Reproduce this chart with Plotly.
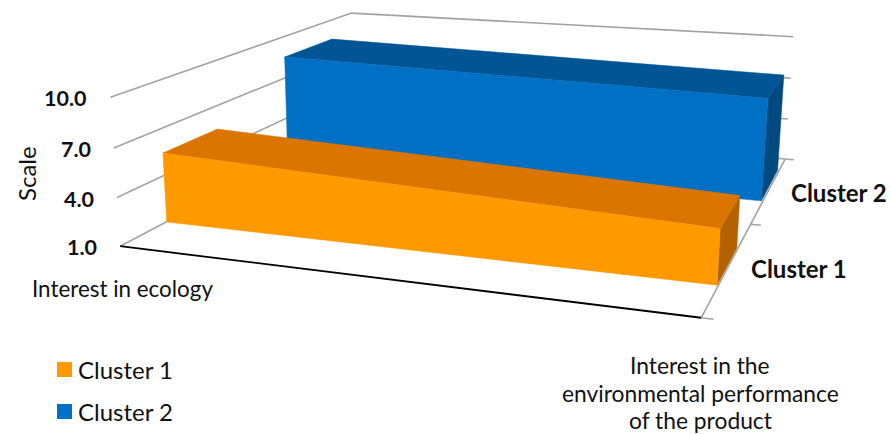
import numpy as np
import plotly.graph_objects as go

# Chart content
categories = ["Interest in ecology", "Interest in the environmental performance of the product"]
series_names = ["Cluster 1", "Cluster 2"]
cluster_1 = [5.45, 4.21]
cluster_2 = [8.45, 7.85]
value_ticks = [1.0, 4.0, 7.0, 10.0]

FONT = "Lato"
GRID = "#a3a3a3"
FACES = {
    "Cluster 1": dict(front="#fe9900", top="#da7600", side="#b46200"),
    "Cluster 2": dict(front="#0070c4", top="#005595", side="#004a80"),
}
# Extent of each series ribbon along the category axis and in depth
RIBBON = {
    "Cluster 1": dict(along=(0.001, 0.998), depth=(0.152, 0.352)),
    "Cluster 2": dict(along=(-0.005, 0.997), depth=(0.66, 0.90)),
}

# Projective camera of the 3D scene: (along, depth, value, 1) -> pixel
CAMERA = np.array([
    [480.294942, 364.174743, -1.426154, 121.200758],
    [26.486294, -76.569664, -16.811244, 262.255137],
    [-0.141025, 0.372413, -0.003205, 1.0],
])


def project(along, depth, value):
    h = CAMERA @ np.array([along, depth, value, 1.0])
    return h[0] / h[2], h[1] / h[2]


def path(points):
    xy = [project(*p) for p in points]
    return [c[0] for c in xy], [c[1] for c in xy]


fig = go.Figure()


def add_line(points, color=GRID, width=1.6):
    x, y = path(points)
    fig.add_trace(go.Scatter(x=x, y=y, mode="lines", showlegend=False, hoverinfo="skip",
                             line=dict(color=color, width=width)))


def add_face(points, color, name):
    x, y = path(points)
    x.append(x[0])
    y.append(y[0])
    fig.add_trace(go.Scatter(x=x, y=y, mode="lines", fill="toself", fillcolor=color, name=name,
                             showlegend=False, line=dict(color=color, width=0.5)))


# Walls: value gridlines run back along the left wall, then across the back wall
base = value_ticks[0]
for v in value_ticks:
    add_line([(0, 0, v), (0, 1, v), (1, 1, v)])

# Floor edges and depth ticks
add_line([(1, 0, base), (1, 1, base)])
for d in (0.0, 0.5, 1.0):
    add_line([(1, d, base), (1.018, d, base)])
add_line([(0, 0, base), (1, 0, base)], color="#000000", width=1.8)

# Ribbons, rear series first
for name, values in zip(reversed(series_names), (cluster_2, cluster_1)):
    a0, a1 = RIBBON[name]["along"]
    d0, d1 = RIBBON[name]["depth"]
    v0, v1 = values
    c = FACES[name]
    add_face([(a1, d0, v1), (a1, d1, v1), (a1, d1, base), (a1, d0, base)], c["side"], name)
    add_face([(a0, d0, v0), (a0, d1, v0), (a1, d1, v1), (a1, d0, v1)], c["top"], name)
    add_face([(a0, d0, v0), (a1, d0, v1), (a1, d0, base), (a0, d0, base)], c["front"], name)


def label(x, y, text, size=22.5, bold=False, anchor="left", angle=0):
    fig.add_annotation(x=x, y=y, text=f"<b>{text}</b>" if bold else text, showarrow=False,
                       xanchor=anchor, yanchor="middle", textangle=angle,
                       font=dict(family=FONT, size=size, color="#111111"))


# Value axis labels sit just left of the wall's front edge
for v in value_ticks:
    px, py = project(0, 0, v)
    label(px - 21, py + 1, f"{v:.1f}", bold=True, anchor="right", size=21.5)
label(26, 174, "Scale", angle=-90, size=24, anchor="center")

# Category labels
label(30, 288, categories[0], size=22.4)
label(700, 365, "Interest in the", size=22.8, anchor="center")
label(700, 392.5, "environmental performance", size=22.8, anchor="center")
label(700, 419.5, "of the product", size=22.8, anchor="center")

# Series labels along the depth axis
label(889, 192, series_names[1], bold=True, size=24, anchor="right")
label(749, 268, series_names[0], bold=True, size=24)

# Legend
for name, yc in zip(series_names, (369.5, 411.5)):
    fig.add_trace(go.Scatter(x=[64.5], y=[yc], mode="markers", showlegend=False, hoverinfo="skip",
                             marker=dict(symbol="square", size=15, color=FACES[name]["front"], line=dict(width=0))))
    label(76, yc, name, size=24)

fig.update_layout(
    width=891, height=434, margin=dict(l=0, r=0, t=0, b=0),
    paper_bgcolor="white", plot_bgcolor="white", showlegend=False,
    xaxis=dict(range=[0, 891], visible=False, fixedrange=True),
    yaxis=dict(range=[434, 0], visible=False, fixedrange=True),
)
fig.write_html("out.html")
